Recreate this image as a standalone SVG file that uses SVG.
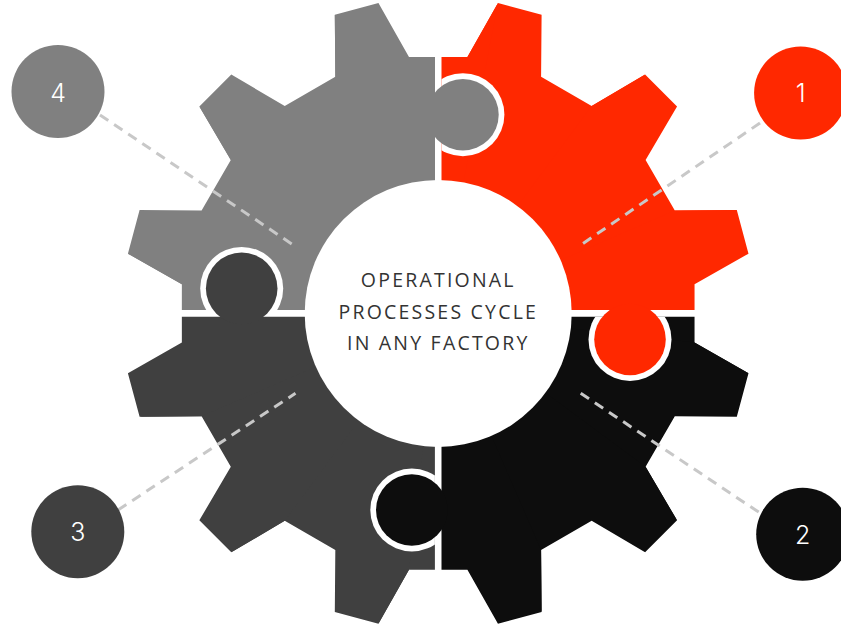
<svg xmlns="http://www.w3.org/2000/svg" xmlns:xlink="http://www.w3.org/1999/xlink" width="841" height="626" viewBox="0 0 841 626">
<style>
.conn{stroke:#c8c8c8;stroke-width:3;stroke-dasharray:10 7;fill:none}
.num{font-family:Inter,"Liberation Sans",sans-serif;font-weight:300;font-size:25px;fill:#ffffff;text-anchor:middle}
.title{font-family:"Open Sans","Liberation Sans",sans-serif;font-size:19.5px;letter-spacing:2.2px;fill:#333333;text-anchor:middle}
.ring{fill:#ffffff}
</style>
<defs>
<polygon id="unit" points="0,0 -38.14,-255.17 -22.59,-315.19 22.59,-315.19 38.14,-255.17 94.56,-240.05 138.03,-284.26"/>
<g id="gear">
<use xlink:href="#unit" href="#unit" transform="rotate(15)"/>
<use xlink:href="#unit" href="#unit" transform="rotate(45)"/>
<use xlink:href="#unit" href="#unit" transform="rotate(75)"/>
<use xlink:href="#unit" href="#unit" transform="rotate(105)"/>
<use xlink:href="#unit" href="#unit" transform="rotate(135)"/>
<use xlink:href="#unit" href="#unit" transform="rotate(165)"/>
<use xlink:href="#unit" href="#unit" transform="rotate(195)"/>
<use xlink:href="#unit" href="#unit" transform="rotate(225)"/>
<use xlink:href="#unit" href="#unit" transform="rotate(255)"/>
<use xlink:href="#unit" href="#unit" transform="rotate(285)"/>
<use xlink:href="#unit" href="#unit" transform="rotate(315)"/>
<use xlink:href="#unit" href="#unit" transform="rotate(345)"/>
</g>
<clipPath id="cTL"><rect x="0" y="0" width="434.9" height="310.1"/></clipPath>
<clipPath id="cTR"><rect x="441.5" y="0" width="400" height="310.1"/></clipPath>
<clipPath id="cBR"><rect x="441.5" y="316.7" width="400" height="320"/></clipPath>
<clipPath id="cBL"><rect x="0" y="316.7" width="434.9" height="320"/></clipPath>
</defs>

<g id="gear-segment-4" clip-path="url(#cTL)">
<use xlink:href="#gear" href="#gear" fill="#808080" transform="translate(438.2,313.4)"/>
</g>
<g id="gear-segment-1" clip-path="url(#cTR)">
<use xlink:href="#gear" href="#gear" fill="#ff2800" transform="translate(438.2,313.4)"/>
</g>
<g id="gear-segment-2" clip-path="url(#cBR)">
<use xlink:href="#gear" href="#gear" fill="#0d0d0d" transform="translate(438.2,313.4)"/>
</g>
<g id="gear-segment-3" clip-path="url(#cBL)">
<use xlink:href="#gear" href="#gear" fill="#404040" transform="translate(438.2,313.4)"/>
</g>

<g id="tabs">
<g clip-path="url(#cTR)"><circle class="ring" cx="462.9" cy="114.7" r="41.5"/></g>
<circle cx="462.9" cy="114.7" r="35.8" fill="#808080"/>
<g clip-path="url(#cBR)"><circle class="ring" cx="630" cy="339.5" r="41.5"/></g>
<circle cx="630" cy="339.5" r="35.8" fill="#ff2800"/>
<g clip-path="url(#cTL)"><circle class="ring" cx="241.7" cy="288.4" r="41.5"/></g>
<circle cx="241.7" cy="288.4" r="35.8" fill="#404040"/>
<g clip-path="url(#cBL)"><circle class="ring" cx="411.8" cy="510" r="41.5"/></g>
<circle cx="411.8" cy="510" r="35.8" fill="#0d0d0d"/>
</g>

<g id="center">
<circle cx="438.2" cy="313.4" r="133.5" fill="#ffffff"/>
<text class="title" x="438.3" y="286.5">OPERATIONAL</text>
<text class="title" x="438.3" y="318.5">PROCESSES CYCLE</text>
<text class="title" x="438.3" y="349.5">IN ANY FACTORY</text>
</g>

<g id="connectors">
<line class="conn" x1="760" y1="123" x2="580.7" y2="245"/>
<line class="conn" x1="580.7" y1="393.3" x2="760" y2="513"/>
<line class="conn" x1="118" y1="510" x2="295.5" y2="393.3"/>
<line class="conn" x1="100" y1="115" x2="293.3" y2="245"/>
</g>

<g id="step-1">
<circle cx="800.6" cy="93" r="46.5" fill="#ff2800"/>
<text class="num" x="800.6" y="101.5">1</text>
</g>
<g id="step-2">
<circle cx="802.7" cy="534.2" r="46.5" fill="#0d0d0d"/>
<text class="num" x="802.7" y="543.5">2</text>
</g>
<g id="step-3">
<circle cx="77.8" cy="531.7" r="46.5" fill="#404040"/>
<text class="num" x="77.8" y="541">3</text>
</g>
<g id="step-4">
<circle cx="58" cy="91.5" r="46.5" fill="#808080"/>
<text class="num" x="58" y="101.5">4</text>
</g>
</svg>
